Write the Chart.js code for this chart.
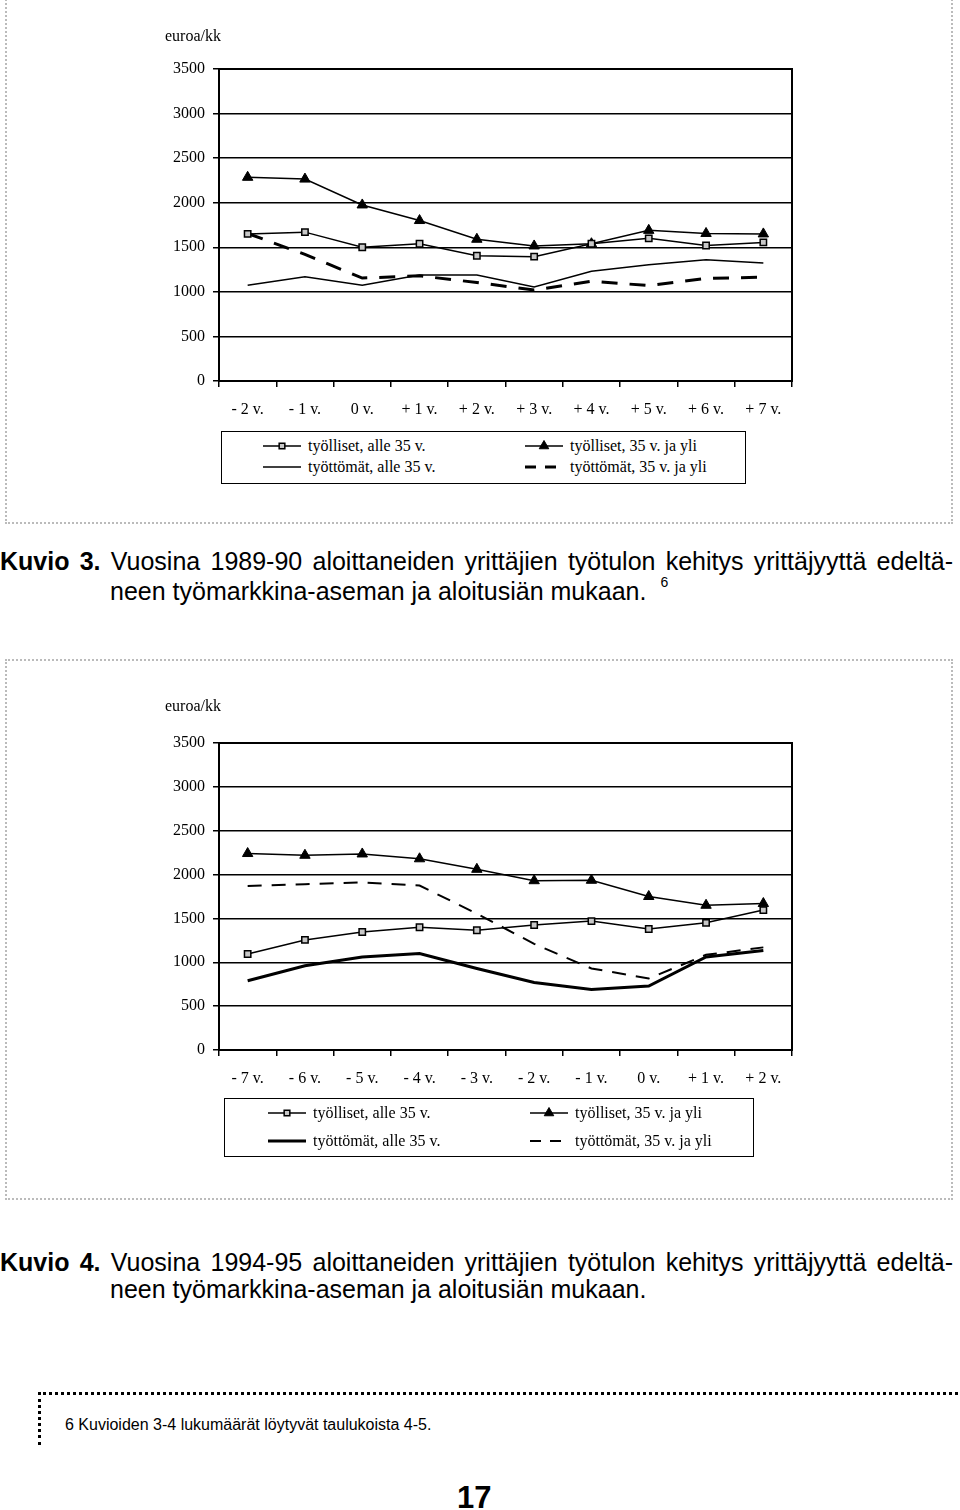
<!DOCTYPE html>
<html>
<head>
<meta charset="utf-8">
<script src="https://cdn.jsdelivr.net/npm/chart.js@4/dist/chart.umd.min.js"></script>
<style>
  body { margin:0; width:960px; height:1510px; position:relative; background:#fff; overflow:hidden; }
  .frame { position:absolute; border:2px dotted #bbb; }
  canvas.chart { position:absolute; left:0; }
  .legend { position:absolute; border:1.5px solid #000; font-family:'Liberation Serif', serif; font-size:16px; color:#000; }
  .legend .item { position:absolute; display:flex; align-items:center; white-space:nowrap; }
  .legend canvas { margin-right:6px; }
  .cap { position:absolute; font-family:'Liberation Sans', Arial, sans-serif; font-size:25px; color:#000; white-space:nowrap; }
  .cap.l1 { left:0; width:953px; text-align:justify; text-align-last:justify; }
  .cap b { font-weight:bold; }
  .cap sup { font-size:14px; margin-left:14px; vertical-align:13px; }
  .note { position:absolute; left:38px; top:1392px; width:922px; height:50px; border-top:3px dotted #000; border-left:3px dotted #000; }
  .note span { position:absolute; left:24px; top:21px; font-family:'Liberation Sans', Arial, sans-serif; font-size:16px; }
  .pageno { position:absolute; left:457px; top:1480px; font-family:'Liberation Sans', Arial, sans-serif; font-weight:bold; font-size:31px; }
</style>
</head>
<body>

<div class="frame" style="left:5px; top:-4px; width:944px; height:524px;"></div>
<div class="frame" style="left:5px; top:659px; width:944px; height:537px;"></div>

<canvas id="kuvio3" class="chart" width="960" height="425" style="top:0px"></canvas>
<div id="legend3" class="legend" style="left:221px; top:431px; width:523px; height:51px;"></div>

<div class="cap l1" style="top:547px;"><b>Kuvio 3.</b> Vuosina 1989-90 aloittaneiden yrittäjien työtulon kehitys yrittäjyyttä edeltä-</div>
<div class="cap" style="left:110px; top:574px;">neen työmarkkina-aseman ja aloitusiän mukaan.<sup>6</sup></div>

<canvas id="kuvio4" class="chart" width="960" height="420" style="top:680px"></canvas>
<div id="legend4" class="legend" style="left:224px; top:1098px; width:528px; height:57px;"></div>

<div class="cap l1" style="top:1248px;"><b>Kuvio 4.</b> Vuosina 1994-95 aloittaneiden yrittäjien työtulon kehitys yrittäjyyttä edeltä-</div>
<div class="cap" style="left:110px; top:1275px;">neen työmarkkina-aseman ja aloitusiän mukaan.</div>

<div class="note"><span>6 Kuvioiden 3-4 lukumäärät löytyvät taulukoista 4-5.</span></div>
<div class="pageno">17</div>

<script>
// Series names
const seriesNames = ['työlliset, alle 35 v.', 'työlliset, 35 v. ja yli', 'työttömät, alle 35 v.', 'työttömät, 35 v. ja yli'];

// Kuvio 3 (1989-90)
const labels3 = ['- 2 v.', '- 1 v.', '0 v.', '+ 1 v.', '+ 2 v.', '+ 3 v.', '+ 4 v.', '+ 5 v.', '+ 6 v.', '+ 7 v.'];
const k3TyollisetAlle = [1650, 1670, 1500, 1540, 1405, 1395, 1540, 1600, 1520, 1555];
const k3TyollisetYli  = [2285, 2265, 1975, 1800, 1590, 1515, 1540, 1690, 1655, 1650];
const k3TyottomatAlle = [1075, 1170, 1075, 1190, 1190, 1055, 1230, 1305, 1360, 1325];
const k3TyottomatYli  = [1655, 1420, 1155, 1180, 1105, 1020, 1120, 1070, 1150, 1165];

// Kuvio 4 (1994-95)
const labels4 = ['- 7 v.', '- 6 v.', '- 5 v.', '- 4 v.', '- 3 v.', '- 2 v.', '- 1 v.', '0 v.', '+ 1 v.', '+ 2 v.'];
const k4TyollisetAlle = [1095, 1255, 1345, 1400, 1365, 1425, 1470, 1380, 1450, 1595];
const k4TyollisetYli  = [2240, 2220, 2235, 2180, 2060, 1930, 1935, 1750, 1650, 1670];
const k4TyottomatAlle = [790, 960, 1060, 1100, 930, 770, 690, 730, 1060, 1135];
const k4TyottomatYli  = [1870, 1890, 1910, 1875, 1555, 1210, 930, 815, 1085, 1170];

const yTicks = [0, 500, 1000, 1500, 2000, 2500, 3000, 3500];
const unitLabel = 'euroa/kk';

Chart.defaults.font.family = "'Liberation Serif', 'Times New Roman', serif";
Chart.defaults.font.size = 16;
Chart.defaults.color = '#000';

function makeDatasets(values, unempWidth, dashWidth, dash){
  return [
    { label: seriesNames[0], data: values[0], borderColor:'#000', borderWidth:1.5,
      pointStyle:'rect', pointRadius:4.5, pointBackgroundColor:'#c8c8c8', pointBorderColor:'#000', pointBorderWidth:1.5 },
    { label: seriesNames[1], data: values[1], borderColor:'#000', borderWidth:1.5,
      pointStyle:'triangle', pointRadius:6, pointBackgroundColor:'#000', pointBorderColor:'#000', pointBorderWidth:1 },
    { label: seriesNames[2], data: values[2], borderColor:'#000', borderWidth:unempWidth, pointRadius:0 },
    { label: seriesNames[3], data: values[3], borderColor:'#000', borderWidth:dashWidth, borderDash:dash, pointRadius:0 }
  ];
}

// box round the plot area + unit text
const framePlugin = {
  id:'frame',
  beforeDatasetsDraw(chart){
    const a = chart.chartArea, ctx = chart.ctx;
    ctx.save();
    ctx.strokeStyle = '#000';
    ctx.lineWidth = 2;
    ctx.strokeRect(a.left, a.top, a.right - a.left, a.bottom - a.top);
    ctx.restore();
  },
  afterDraw(chart){
    const ctx = chart.ctx;
    ctx.save();
    ctx.font = "16px 'Liberation Serif', serif";
    ctx.fillStyle = '#000';
    ctx.textBaseline = 'middle';
    ctx.fillText(unitLabel, 165, chart.options.plugins.frame.unitY);
    ctx.restore();
  }
};

function makeChart(id, labels, datasets, top, bottomPad, unitY){
  return new Chart(document.getElementById(id), {
    type:'line',
    data:{ labels: labels, datasets: datasets },
    plugins:[framePlugin],
    options:{
      responsive:false,
      animation:false,
      layout:{ padding:{ left:159, right:168, top:top, bottom:bottomPad } },
      plugins:{ legend:{ display:false }, tooltip:{ enabled:false }, frame:{ unitY: unitY } },
      elements:{ line:{ tension:0 } },
      scales:{
        x:{
          offset:true,
          grid:{ offset:true, drawOnChartArea:false, drawTicks:true, tickLength:6, color:'#000', lineWidth:1.5 },
          border:{ display:true, color:'#000', width:2 },
          ticks:{ padding:13, maxRotation:0, autoSkip:false },
          afterFit: s => { s.height = 40; }
        },
        y:{
          min:0, max:3500,
          afterBuildTicks: s => { s.ticks = yTicks.map(v => ({ value:v })); },
          grid:{ color:'#000', lineWidth:1.5, tickLength:6 },
          border:{ display:true, color:'#000', width:2 },
          ticks:{ padding:8, callback: v => String(v) },
          afterFit: s => { s.width = 60; }
        }
      }
    }
  });
}

// legend swatch drawn with the same styles as the lines
function buildLegend(divId, datasets, pos){
  const div = document.getElementById(divId);
  datasets.forEach((ds, i) => {
    const item = document.createElement('div');
    item.className = 'item';
    item.style.left = pos[i][0] + 'px';
    item.style.top = pos[i][1] + 'px';
    const c = document.createElement('canvas');
    c.width = 40; c.height = 14;
    const ctx = c.getContext('2d');
    ctx.strokeStyle = '#000';
    ctx.lineWidth = ds.borderWidth;
    if (ds.borderDash) ctx.setLineDash([11, 9]);
    ctx.beginPath(); ctx.moveTo(1, 7); ctx.lineTo(39, 7); ctx.stroke();
    ctx.setLineDash([]);
    if (ds.pointRadius > 0) {
      ctx.fillStyle = ds.pointBackgroundColor;
      ctx.strokeStyle = ds.pointBorderColor;
      ctx.lineWidth = ds.pointBorderWidth;
      Chart.helpers.drawPoint(ctx, { pointStyle: ds.pointStyle, radius: ds.pointRadius - 0.5, borderWidth: ds.pointBorderWidth, rotation:0 }, 20, 7);
    }
    const t = document.createElement('span');
    t.textContent = ds.label;
    item.appendChild(c);
    item.appendChild(t);
    div.appendChild(item);
  });
}

const ds3 = makeDatasets([k3TyollisetAlle, k3TyollisetYli, k3TyottomatAlle, k3TyottomatYli], 1.5, 3, [16, 12]);
makeChart('kuvio3', labels3, ds3, 69, 4, 37);
buildLegend('legend3', ds3, [[40, 5], [302, 5], [40, 26], [302, 26]]);

const ds4 = makeDatasets([k4TyollisetAlle, k4TyollisetYli, k4TyottomatAlle, k4TyottomatYli], 3, 2, [14, 10]);
makeChart('kuvio4', labels4, ds4, 63, 10, 27);
buildLegend('legend4', ds4, [[42, 5], [304, 5], [42, 33], [304, 33]]);
</script>
</body>
</html>
